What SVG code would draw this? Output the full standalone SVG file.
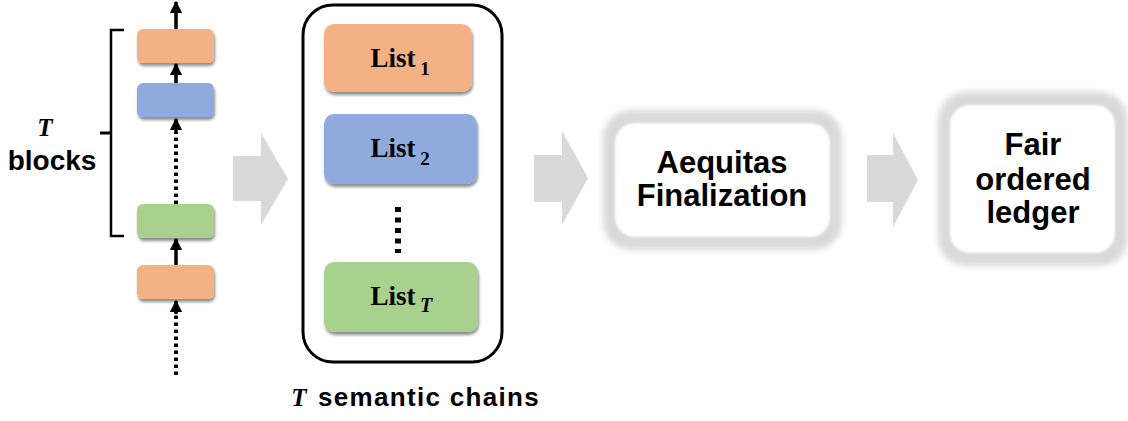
<svg xmlns="http://www.w3.org/2000/svg" width="1128" height="421" viewBox="0 0 1128 421">
  <style>
    .sans { font-family: "Liberation Sans", Arial, sans-serif; font-weight: bold; fill: #000; }
    .math { font-family: "Liberation Serif", "Times New Roman", serif; font-weight: bold; font-style: italic; fill: #000; }
    .lst { font-family: "Liberation Serif", "Times New Roman", serif; font-weight: bold; fill: #000; }
    .blk { stroke: none; }
    .orange { fill: #F4B183; }
    .blue { fill: #8FAADC; }
    .green { fill: #A9D18E; }
    .flow { fill: #D9D9D9; }
    .line { stroke: #000; stroke-width: 3.5; fill: none; }
    .dots { stroke: #000; stroke-width: 4; fill: none; stroke-dasharray: 3.5 3.5; }
  </style>
  <defs>
    <filter id="shadow" x="-10%" y="-20%" width="130%" height="160%">
      <feGaussianBlur in="SourceAlpha" stdDeviation="1.5"/>
      <feOffset dx="1" dy="2.5" result="b"/>
      <feComponentTransfer><feFuncA type="linear" slope="0.45"/></feComponentTransfer>
      <feMerge><feMergeNode/><feMergeNode in="SourceGraphic"/></feMerge>
    </filter>
    <filter id="glow" x="-10%" y="-15%" width="120%" height="130%">
      <feGaussianBlur stdDeviation="3"/>
    </filter>
    <filter id="soft" x="-5%" y="-5%" width="110%" height="110%">
      <feGaussianBlur stdDeviation="1"/>
    </filter>
    <marker id="head" viewBox="0 0 10 10" refX="9" refY="5" markerWidth="3.6" markerHeight="3.6" orient="auto" markerUnits="strokeWidth">
      <path d="M0,0 L10,5 L0,10 z" fill="#000"/>
    </marker>
  </defs>

  <!-- left stack of blocks -->
  <g id="block-top" filter="url(#shadow)"><rect class="blk orange" x="137" y="29" width="77" height="34" rx="6"/></g>
  <g id="block-second" filter="url(#shadow)"><rect class="blk blue" x="137" y="83" width="77" height="34" rx="6"/></g>
  <g id="block-last" filter="url(#shadow)"><rect class="blk green" x="137" y="204" width="77" height="34" rx="6"/></g>
  <g id="block-prev" filter="url(#shadow)"><rect class="blk orange" x="137" y="265" width="77" height="34" rx="6"/></g>

  <g id="connectors">
    <line class="line" x1="176" y1="29" x2="176" y2="2" marker-end="url(#head)"/>
    <line class="line" x1="176" y1="83" x2="176" y2="64" marker-end="url(#head)"/>
    <line class="dots" x1="176" y1="204" x2="176" y2="132"/>
    <line class="line" x1="176" y1="132" x2="176" y2="119" marker-end="url(#head)"/>
    <line class="line" x1="176" y1="265" x2="176" y2="239" marker-end="url(#head)"/>
    <line class="dots" x1="176" y1="375" x2="176" y2="314"/>
    <line class="line" x1="176" y1="314" x2="176" y2="301" marker-end="url(#head)"/>
    <!-- flow arrows -->
    <path class="flow" d="M233,156 H261 V133 L288,179 L261,225 V201 H233 Z"/>
    <path class="flow" d="M534,155 H562 V131 L588,178 L562,225 V202 H534 Z"/>
    <path class="flow" d="M867,155 H893 V133 L918,180 L893,227 V202 H867 Z"/>
  </g>

  <!-- brace for T blocks -->
  <g id="brace">
    <path d="M124,30 H111 V236 H124" stroke="#000" stroke-width="2.5" fill="none"/>
    <line x1="100" y1="133" x2="111" y2="133" stroke="#000" stroke-width="3"/>
    <text class="math" x="45" y="136" font-size="25" text-anchor="middle">T</text>
    <text class="sans" x="52" y="170" font-size="28" text-anchor="middle">blocks</text>
  </g>

  <!-- semantic chains container -->
  <g id="chains">
    <rect x="303" y="5" width="199" height="357" rx="30" fill="#fff" stroke="#000" stroke-width="3"/>
    <g id="list1" filter="url(#shadow)">
      <rect class="blk orange" x="324" y="24" width="148" height="68" rx="10"/>
    </g>
    <text class="lst" x="393" y="67" font-size="27" text-anchor="middle">List</text>
    <text class="lst" x="425" y="75" font-size="19" text-anchor="middle">1</text>
    <g id="list2" filter="url(#shadow)">
      <rect class="blk blue" x="324" y="114" width="153" height="70" rx="10"/>
    </g>
    <text class="lst" x="393" y="157" font-size="27" text-anchor="middle">List</text>
    <text class="lst" x="425" y="165" font-size="19" text-anchor="middle">2</text>
    <line x1="398" y1="207" x2="398" y2="253" stroke="#000" stroke-width="6" stroke-dasharray="5 5.5"/>
    <g id="listT" filter="url(#shadow)">
      <rect class="blk green" x="324" y="262" width="154" height="70" rx="10"/>
    </g>
    <text class="lst" x="393" y="305" font-size="27" text-anchor="middle">List</text>
    <text class="math" x="426" y="312" font-size="20" text-anchor="middle">T</text>
    <text class="math" x="299" y="406" font-size="25" text-anchor="middle">T</text>
    <text class="sans" x="429" y="406" font-size="26" letter-spacing="1.3" text-anchor="middle">semantic chains</text>
  </g>

  <!-- finalization step -->
  <g id="finalization">
    <rect class="flow" x="603" y="110" width="239" height="140" rx="28" filter="url(#glow)"/>
    <rect x="615" y="123" width="215" height="114" rx="20" fill="#fff" filter="url(#soft)"/>
    <text class="sans" x="722" y="173" font-size="31" text-anchor="middle">Aequitas</text>
    <text class="sans" x="722" y="206" font-size="31" text-anchor="middle">Finalization</text>
  </g>

  <!-- output ledger -->
  <g id="ledger">
    <rect class="flow" x="938" y="92" width="190" height="174" rx="28" filter="url(#glow)"/>
    <rect x="950" y="105" width="165" height="148" rx="20" fill="#fff" filter="url(#soft)"/>
    <text class="sans" x="1033" y="155" font-size="31" text-anchor="middle">Fair</text>
    <text class="sans" x="1033" y="190" font-size="31" text-anchor="middle">ordered</text>
    <text class="sans" x="1033" y="223" font-size="31" text-anchor="middle">ledger</text>
  </g>
</svg>
